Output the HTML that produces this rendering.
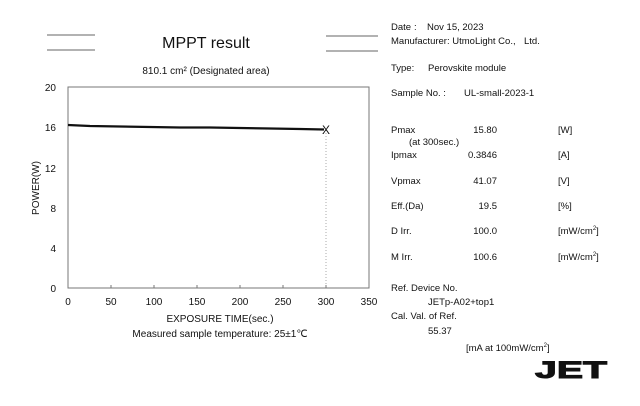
<!DOCTYPE html>
<html><head><meta charset="utf-8"><style>
html,body{margin:0;padding:0;background:#fff;}
body{width:640px;height:401px;overflow:hidden;}
svg text{font-family:"Liberation Sans",Arial,sans-serif;fill:#111;}
</style></head><body>
<svg width="640" height="401" viewBox="0 0 640 401" xmlns="http://www.w3.org/2000/svg">
<g stroke="#666" stroke-width="1">
<line x1="47" y1="35" x2="95" y2="35"/><line x1="47" y1="50" x2="95" y2="50"/>
<line x1="326" y1="36" x2="378" y2="36"/><line x1="326" y1="51" x2="378" y2="51"/>
</g>
<text x="206" y="48" font-size="16" text-anchor="middle">MPPT result</text>
<text x="206" y="74" font-size="10" text-anchor="middle">810.1 cm² (Designated area)</text>
<rect x="68" y="87" width="301" height="201" fill="none" stroke="#777" stroke-width="1"/>
<line x1="326" y1="130" x2="326" y2="288" stroke="#aaa" stroke-dasharray="1,2"/>
<g stroke="#777">
<line x1="111" y1="288" x2="111" y2="285"/><line x1="154" y1="288" x2="154" y2="285"/><line x1="197" y1="288" x2="197" y2="285"/><line x1="240" y1="288" x2="240" y2="285"/><line x1="283" y1="288" x2="283" y2="285"/><line x1="326" y1="288" x2="326" y2="285"/>
</g>
<polyline points="68,125 90,126 120,126.5 150,127 180,127.5 210,127.5 240,128 270,128.5 300,129 324,129.5" fill="none" stroke="#111" stroke-width="2.2"/>
<text x="326" y="134" font-size="12" text-anchor="middle">X</text>
<g font-size="10" text-anchor="end">
<text x="56" y="91">20</text><text x="56" y="131">16</text><text x="56" y="172">12</text><text x="56" y="212">8</text><text x="56" y="252">4</text><text x="56" y="292">0</text>
</g>
<g font-size="10" text-anchor="middle">
<text x="68" y="305">0</text><text x="111" y="305">50</text><text x="154" y="305">100</text><text x="197" y="305">150</text><text x="240" y="305">200</text><text x="283" y="305">250</text><text x="326" y="305">300</text><text x="369" y="305">350</text>
</g>
<text x="0" y="0" font-size="10" text-anchor="middle" transform="translate(39,188) rotate(-90)">POWER(W)</text>
<text x="220" y="322" font-size="10" text-anchor="middle">EXPOSURE TIME(sec.)</text>
<text x="220" y="337" font-size="10" text-anchor="middle">Measured sample temperature: 25±1℃</text>
<g font-size="9.5">
<text x="391" y="30">Date</text><text x="414" y="30">:</text><text x="427" y="30">Nov 15, 2023</text>
<text x="391" y="44">Manufacturer: UtmoLight Co.,</text><text x="524" y="44">Ltd.</text>
<text x="391" y="71">Type:</text><text x="428" y="71">Perovskite  module</text>
<text x="391" y="96">Sample No. :</text><text x="464" y="96">UL-small-2023-1</text>
<text x="391" y="133">Pmax</text><text x="497" y="133" text-anchor="end">15.80</text><text x="558" y="133">[W]</text>
<text x="409" y="145">(at 300sec.)</text>
<text x="391" y="158">Ipmax</text><text x="497" y="158" text-anchor="end">0.3846</text><text x="558" y="158">[A]</text>
<text x="391" y="184">Vpmax</text><text x="497" y="184" text-anchor="end">41.07</text><text x="558" y="184">[V]</text>
<text x="391" y="209">Eff.(Da)</text><text x="497" y="209" text-anchor="end">19.5</text><text x="558" y="209">[%]</text>
<text x="391" y="234">D Irr.</text><text x="497" y="234" text-anchor="end">100.0</text><text x="558" y="234">[mW/cm<tspan font-size="6" dy="-4">2</tspan><tspan dy="4">]</tspan></text>
<text x="391" y="260">M Irr.</text><text x="497" y="260" text-anchor="end">100.6</text><text x="558" y="260">[mW/cm<tspan font-size="6" dy="-4">2</tspan><tspan dy="4">]</tspan></text>
<text x="391" y="291">Ref. Device No.</text>
<text x="428" y="305">JETp-A02+top1</text>
<text x="391" y="319">Cal. Val. of Ref.</text>
<text x="428" y="334">55.37</text>
<text x="466" y="351">[mA at 100mW/cm<tspan font-size="6" dy="-4">2</tspan><tspan dy="4">]</tspan></text>
</g>
<text x="535" y="378" font-size="24" font-weight="bold" textLength="72" lengthAdjust="spacingAndGlyphs" stroke="#111" stroke-width="1">JET</text>
</svg>
</body></html>
